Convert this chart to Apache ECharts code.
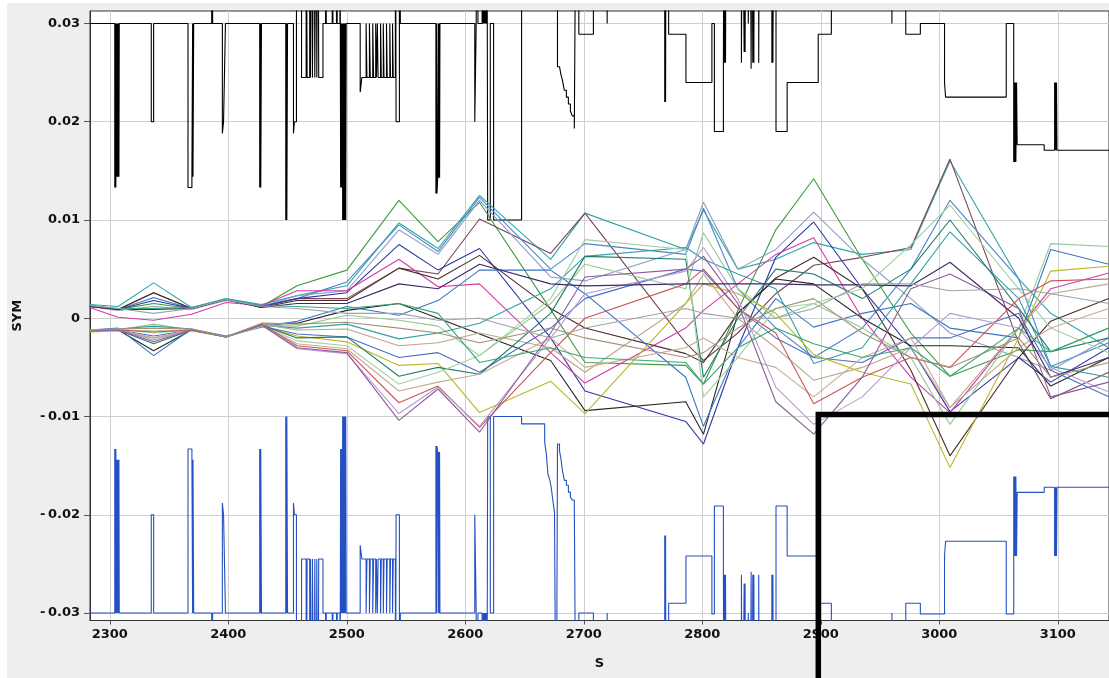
<!DOCTYPE html>
<html><head><meta charset="utf-8">
<script src="https://cdn.jsdelivr.net/npm/echarts@6.0.0/dist/echarts.min.js"></script>
<style>html,body{margin:0;padding:0;background:#fff}#c{width:1109px;height:678px}</style>
</head><body><div id="c"></div>
<script>
// ---------------- DATA ----------------
const X_TICKS = [2300, 2400, 2500, 2600, 2700, 2800, 2900, 3000, 3100];
const Y_TICKS = [-0.03, -0.02, -0.01, 0, 0.01, 0.02, 0.03];

// Orbit sample positions (s) shared by all trajectories
const S_ORBIT = [2283, 2307, 2337, 2369, 2398, 2428, 2458, 2500, 2544, 2577, 2612, 2672, 2701, 2786, 2801, 2830, 2862, 2894, 2935, 2976, 3009, 3067, 3094, 3143];
// trajectory values in units of 1e-3
const o01 = [1.2, 0.9, 1.5, 1.0, 1.9, 1.2, 3.3, 4.9, 12.0, 7.8, 11.8, 0.9, -4.5, -4.8, -6.7, 0.8, 9.0, 14.2, 6.0, -1.5, -5.9, -3.2, -3.4, -1.0];
const o02 = [1.4, 1.2, 3.6, 1.1, 2.0, 1.4, 2.3, 3.3, 9.7, 7.1, 12.5, 6.0, 10.7, 7.0, 11.0, 5.0, 6.0, 7.7, 6.5, 7.0, 16.0, 4.0, 0.5, -3.0];
const o03 = [1.3, 0.9, 2.6, 1.0, 1.9, 1.2, 2.0, 2.0, 5.1, 4.5, 10.1, 6.6, 10.7, -2.5, -4.3, -1.5, 2.5, 5.4, 6.2, 7.2, 16.2, -2.5, -8.2, -5.5];
const o04 = [1.3, 0.9, 2.1, 1.0, 1.9, 1.3, 2.0, 3.7, 9.5, 6.8, 12.3, 5.0, 7.6, 6.5, 11.2, 3.0, -1.0, -4.0, -1.0, 5.0, 12.0, 4.0, -4.9, -2.5];
const o05 = [1.2, 0.8, 1.2, 0.9, 1.8, 1.2, 2.3, 2.8, 9.0, 6.5, 12.0, 4.2, 3.8, 7.0, 11.8, 5.0, 7.0, 10.8, 6.0, 2.0, -1.5, -4.0, -5.3, -2.0];
const o06 = [1.3, 0.9, 1.8, 1.0, 1.9, 1.2, 2.0, 2.6, 7.5, 4.9, 7.1, -2.0, -7.4, -10.5, -12.8, -3.0, 6.2, 9.8, 3.0, -3.0, -9.5, -4.0, -6.5, -3.0];
const o07 = [1.1, 0.1, -0.2, 0.4, 1.6, 1.3, 2.8, 2.8, 6.0, 3.2, 3.5, -3.5, -6.6, -1.0, 0.8, 3.5, 6.5, 8.2, 0.0, -6.0, -9.6, -1.0, 3.0, 4.6];
const o08 = [1.2, 0.9, 2.6, 1.0, 1.9, 1.1, 1.8, 1.8, 5.1, 4.0, 6.4, 1.0, -1.0, -3.6, -4.5, 0.5, 4.1, 6.2, 3.0, -5.3, -14.0, -4.0, -0.3, 2.0];
const o09 = [-1.3, -1.2, -3.3, -1.2, -1.9, -0.6, -0.5, 0.8, 1.5, 0.0, -1.6, -4.3, -9.4, -8.5, -11.8, 0.5, 4.0, 3.5, 0.0, -2.8, -2.8, -3.0, -6.9, -4.0];
const o10 = [-1.2, -1.0, -3.8, -1.1, -1.8, -0.9, -0.3, 1.2, 0.3, 1.8, 4.9, 4.9, 2.5, -6.0, -11.0, -3.0, 2.0, -0.9, 0.5, 1.5, -1.0, -2.0, 7.0, 5.5];
const o11 = [-1.3, -1.2, -0.6, -1.2, -1.9, -0.7, -0.8, 0.3, -0.2, -0.8, -3.8, 1.5, 5.5, 3.0, 8.7, 3.0, 0.0, 1.5, -1.0, -4.0, -10.8, -1.0, 7.6, 7.3];
const o12 = [-1.2, -1.1, -0.8, -1.1, -1.9, -0.7, -1.0, -0.6, -2.1, -1.5, -0.5, 3.0, 6.3, 7.2, 6.0, 4.5, 3.0, -4.6, -3.0, 3.5, 8.8, 2.0, -4.9, -6.0];
const o13 = [-1.3, -1.2, -1.3, -1.2, -1.9, -0.6, -1.2, -1.1, -2.8, -2.5, -1.5, -3.0, -5.5, 1.5, 4.5, 0.0, -3.0, -6.3, -5.0, -3.0, -9.1, -1.0, 2.5, 3.5];
const o14 = [-1.3, -1.2, -1.8, -1.2, -1.9, -0.8, -1.6, -1.9, -4.0, -3.5, -5.5, -1.0, 2.0, 5.0, 4.8, 1.0, -2.0, -4.0, -4.5, -2.0, -2.0, 0.5, -5.3, -8.0];
const o15 = [-1.4, -1.3, -2.0, -1.3, -1.9, -0.8, -1.8, -2.4, -4.8, -4.6, -9.6, -6.4, -9.7, 1.5, 3.5, 2.5, 0.5, -3.7, -5.5, -6.7, -15.2, -2.0, 4.8, 5.3];
const o16 = [-1.3, -1.2, -2.6, -1.2, -1.9, -0.7, -2.0, -1.9, -5.9, -5.0, -5.7, 0.5, 6.3, 6.0, -6.0, 0.0, 5.0, 4.5, 2.0, 5.0, 10.0, 1.0, -3.4, -2.0];
const o17 = [-1.2, -1.1, -1.5, -1.2, -1.9, -0.8, -2.3, -2.8, -6.7, -5.5, -3.8, 2.0, 8.0, 7.0, -8.0, -4.0, 1.0, 1.5, 3.0, 7.5, 11.5, 3.0, -1.0, -3.5];
const o18 = [-1.3, -1.2, -2.0, -1.2, -1.9, -0.7, -2.6, -3.1, -7.4, -6.5, -5.7, -2.0, -5.0, -3.0, -2.0, -4.0, -5.0, -8.0, -4.0, -2.0, -9.1, -3.0, -1.0, 1.0];
const o19 = [-1.3, -1.2, -1.4, -1.2, -1.9, -0.6, -2.8, -3.3, -8.6, -6.9, -11.1, -3.5, 0.0, 3.5, 5.0, 1.0, -1.5, -8.7, -6.0, -4.0, -5.0, 2.0, 3.8, 4.0];
const o20 = [-1.3, -1.2, -2.2, -1.2, -1.9, -0.7, -3.1, -3.6, -9.7, -7.0, -11.0, -2.0, 2.5, 4.8, 7.2, 2.0, -7.0, -10.8, -8.0, -3.0, 0.5, -1.0, -5.0, -7.5];
const o21 = [-1.3, -1.2, -2.4, -1.2, -1.9, -0.7, -3.0, -3.5, -10.4, -7.2, -11.6, -1.5, 4.2, 5.0, 6.3, 1.5, -8.5, -11.8, -6.0, 3.0, 4.5, 1.0, -8.0, -6.5];
const o22 = [1.2, 0.9, 0.9, 1.0, 1.9, 1.1, 1.5, 1.5, 3.5, 3.0, 5.5, 3.5, 3.3, 3.5, 3.5, 3.5, 3.5, 3.4, 3.4, 3.3, 5.7, 0.0, -6.0, -4.0];
const o23 = [-1.2, -1.1, -1.0, -1.1, -1.9, -0.5, -0.6, -0.4, -1.0, -1.5, -2.5, -1.0, -2.0, -4.0, -3.5, -1.0, 1.0, 2.0, -1.5, -4.0, -5.0, -2.0, -6.0, -4.5];
const o24 = [1.3, 1.0, 1.0, 1.1, 1.9, 1.3, 1.2, 1.0, 1.5, 0.5, -4.5, -3.0, -4.0, -4.5, -6.7, -3.0, -1.0, -2.6, -4.0, -3.0, -5.9, -1.0, -3.4, -1.0];
const o25 = [1.3, 1.0, 0.5, 1.0, 1.9, 1.2, 1.0, 0.5, 0.5, -0.2, 0.0, -2.0, -1.0, 1.0, 0.5, 0.0, 0.0, 1.0, 3.5, 3.5, 2.8, 3.0, 2.5, 1.5];
const ORBITS = [o01, o02, o03, o04, o05, o06, o07, o08, o09, o10, o11, o12, o13, o14, o15, o16, o17, o18, o19, o20, o21, o22, o23, o24, o25];

// Aperture steps: [s, upper, lower]; value holds from s to next s. BIG = beyond plot range
const BIG = 0.05;
const APERTURE_STEPS = [
[2283.0,0.03,-0.03],
[2304.2,0.0133,-0.0133],[2304.8,0.03,-0.03],[2305.1,0.0133,-0.0133],[2305.7,0.03,-0.03],[2306.0,0.0144,-0.0144],
[2306.6,0.03,-0.03],[2306.9,0.0144,-0.0144],[2307.5,0.03,-0.03],[2307.7,0.0144,-0.0144],[2308.0,0.03,-0.03],
[2335.0,0.0200,-0.0200],[2337.0,0.03,-0.03],
[2366.0,0.0133,-0.0133],[2369.3,0.0144,-0.0144],[2369.9,0.03,-0.03],[2370.2,0.0144,-0.0144],[2370.8,0.03,-0.03],
[2386.0,BIG,-BIG],[2386.8,0.03,-0.03],[2395.0,0.0188,-0.0188],[2396.0,0.0200,-0.0200],[2397.6,0.03,-0.03],
[2426.5,0.0133,-0.0133],[2427.1,0.03,-0.03],[2427.4,0.0133,-0.0133],[2428.0,0.03,-0.03],
[2448.5,0.0100,-0.0100],[2449.1,0.03,-0.03],[2449.4,0.0100,-0.0100],[2450.0,0.03,-0.03],
[2455.0,0.0188,-0.0188],[2455.8,0.0200,-0.0200],[2457.5,0.03,-0.03],[2458.3,BIG,-BIG],
[2461.8,0.0245,-0.0245],[2465.7,BIG,-BIG],[2466.5,0.0245,-0.0245],[2468.7,BIG,-BIG],[2469.3,0.0245,-0.0245],
[2470.4,BIG,-BIG],[2471.0,0.0245,-0.0245],[2472.4,BIG,-BIG],[2473.0,0.0245,-0.0245],[2474.1,BIG,-BIG],
[2474.7,0.0245,-0.0245],[2475.7,BIG,-BIG],[2476.3,0.0245,-0.0245],[2479.9,0.03,-0.03],
[2482.1,BIG,-BIG],[2482.7,0.03,-0.03],[2487.7,BIG,-BIG],[2488.3,0.03,-0.03],[2491.3,BIG,-BIG],[2491.9,0.03,-0.03],
[2494.2,BIG,-BIG],[2494.8,0.0133,-0.0133],[2495.4,0.03,-0.03],[2495.7,0.0133,-0.0133],[2496.3,0.03,-0.03],
[2496.5,0.0100,-0.0100],[2497.1,0.03,-0.03],[2497.4,0.0100,-0.0100],[2498.0,0.03,-0.03],[2498.3,0.0100,-0.0100],
[2498.9,0.03,-0.03],[2499.1,0.0100,-0.0100],[2499.5,0.03,-0.03],
[2511.3,0.0230,-0.0231],[2512.7,0.0245,-0.0245],[2516.3,0.03,-0.03],[2517.0,0.0245,-0.0245],
[2519.1,0.03,-0.03],[2519.8,0.0245,-0.0245],[2521.9,0.03,-0.03],[2522.6,0.0245,-0.0245],
[2524.4,0.03,-0.03],[2525.0,0.0245,-0.0245],[2525.8,0.03,-0.03],[2526.4,0.0245,-0.0245],
[2528.5,0.03,-0.03],[2529.1,0.0245,-0.0245],[2530.8,0.03,-0.03],[2531.4,0.0245,-0.0245],
[2533.5,0.03,-0.03],[2534.1,0.0245,-0.0245],[2536.3,0.03,-0.03],[2536.9,0.0245,-0.0245],
[2538.6,0.03,-0.03],[2539.2,0.0245,-0.0245],[2541.0,BIG,-BIG],[2541.6,0.0200,-0.0200],[2544.4,BIG,-BIG],[2545.2,0.03,-0.03],
[2575.2,0.0127,-0.0130],[2575.8,0.03,-0.03],[2576.1,0.0127,-0.0130],[2576.7,0.0143,-0.0136],[2577.3,0.03,-0.03],
[2577.6,0.0143,-0.0136],[2578.2,0.03,-0.03],[2578.3,0.0143,-0.0136],[2578.6,0.03,-0.03],
[2608.0,0.0200,-0.0200],[2609.2,0.03,-0.03],[2610.0,BIG,-BIG],[2610.7,0.03,-0.03],
[2614.2,BIG,-BIG],[2614.8,0.03,-0.03],[2615.0,BIG,-BIG],[2615.6,0.03,-0.03],[2615.8,BIG,-BIG],[2616.4,0.03,-0.03],
[2616.6,BIG,-BIG],[2617.2,0.03,-0.03],[2617.4,BIG,-BIG],[2618.0,0.03,-0.03],[2618.2,BIG,-BIG],
[2618.9,0.0100,-0.0100],[2621.1,0.03,-0.03],[2623.9,0.0100,-0.0100],
[2647.5,BIG,-0.01075],[2667.0,BIG,-0.01263],[2668.4,BIG,-0.0138],[2669.7,BIG,-0.01585],[2671.1,BIG,-0.01636],
[2672.5,BIG,-0.0172],[2673.9,BIG,-0.01857],[2675.3,BIG,-0.01975],[2676.7,BIG,-BIG],
[2677.8,0.0256,-0.0128],[2679.5,0.0254,-0.0135],[2680.7,0.0248,-0.0143],[2682.0,0.0242,-0.0155],
[2683.6,0.0232,-0.0165],[2685.3,0.0225,-0.0170],[2687.0,0.0218,-0.0177],[2688.7,0.0211,-0.0182],
[2690.3,0.0206,-0.0185],[2692.0,0.0193,-0.0190],[2693.6,BIG,-BIG],
[2695.8,0.0289,-0.0300],[2708.1,BIG,-BIG],[2719.7,0.03,-0.03],[2720.4,BIG,-BIG],
[2768.3,0.0220,-0.0221],[2768.8,BIG,-BIG],[2769.0,0.0220,-0.0221],[2769.4,BIG,-BIG],
[2771.6,0.0289,-0.0290],[2786.2,0.0240,-0.0242],
[2808.1,0.0300,-0.0301],[2810.2,0.0190,-0.0191],
[2817.8,0.0260,-0.0261],[2818.4,BIG,-BIG],[2818.7,0.0260,-0.0261],[2819.3,BIG,-BIG],[2819.6,0.0260,-0.0261],[2820.2,BIG,-BIG],
[2833.0,0.0260,-0.0261],[2833.8,BIG,-BIG],
[2835.3,0.0271,-0.0270],[2835.9,BIG,-BIG],[2836.1,0.0271,-0.0270],[2836.7,BIG,-BIG],
[2838.8,0.0300,-0.0300],[2840.2,BIG,-BIG],[2841.2,0.0254,-0.0258],[2841.9,BIG,-BIG],
[2842.6,0.0260,-0.0261],[2843.2,BIG,-BIG],[2843.5,0.0260,-0.0261],[2844.1,BIG,-BIG],
[2847.6,0.0260,-0.0261],[2848.3,BIG,-BIG],
[2858.7,0.0260,-0.0261],[2859.3,BIG,-BIG],[2859.6,0.0260,-0.0261],[2860.2,BIG,-BIG],
[2862.2,0.0190,-0.0191],[2871.6,0.0240,-0.0242],
[2897.8,0.0289,-0.0290],[2908.9,BIG,-BIG],[2960.0,0.03,-0.03],[2960.6,BIG,-BIG],
[2971.7,0.0289,-0.0290],[2984.0,0.0300,-0.0301],[3004.4,0.0240,-0.0242],[3005.3,0.0225,-0.0227],
[3056.5,0.0300,-0.0301],
[3062.8,0.0159,-0.0161],[3063.4,0.0240,-0.0242],[3063.7,0.0159,-0.0161],[3064.3,0.0240,-0.0242],[3064.6,0.0159,-0.0161],[3065.2,0.0240,-0.0242],
[3065.7,0.01766,-0.01772],[3088.5,0.0171,-0.0172],
[3097.3,0.0240,-0.0242],[3097.9,0.0171,-0.0172],[3098.1,0.0240,-0.0242],[3098.7,0.0171,-0.0172],[3098.9,0.0240,-0.0242],
[3099.3,0.0171,-0.0172],[3150.0,0.0171,-0.0172]
];

// ---------------- STYLE ----------------
const ORBIT_COLORS = ['#3d9a3d','#2ca7a7','#7b4456','#4a88c8','#8f9cc4','#2b36a6','#d23aa6','#4b2b2b','#262626','#3a76c2',
  '#93c993','#33a0a0','#bda68b','#4d6fc2','#b9b825','#1f7d6c','#a3cfa3','#c6ab94','#c95656','#b49cd2','#8b5b9b','#3d2a6b','#a39274','#3aa676','#9ea3ab'];
const FONT = '"DejaVu Sans", Verdana, sans-serif';

const chart = echarts.init(document.getElementById('c'), null, {renderer: 'canvas'});

const series = [];
series.push({
  type: 'line', step: 'end', showSymbol: false, symbol: 'none', z: 2, silent: true,
  lineStyle: {color: '#000', width: 1.1},
  data: APERTURE_STEPS.map(r => [r[0], r[1]])
});
series.push({
  type: 'line', step: 'end', showSymbol: false, symbol: 'none', z: 2, silent: true,
  lineStyle: {color: '#2450c2', width: 1.1},
  data: APERTURE_STEPS.map(r => [r[0], r[2]])
});
ORBITS.forEach((vals, k) => {
  series.push({
    type: 'line', showSymbol: false, symbol: 'none', z: 3, silent: true,
    lineStyle: {color: ORBIT_COLORS[k], width: 1.1},
    data: S_ORBIT.map((s, i) => [s, vals[i] / 1000])
  });
});

const labelStyle = {fontFamily: FONT, fontWeight: 'bold', fontSize: 13, color: '#111'};

chart.setOption({
  animation: false,
  backgroundColor: '#ffffff',
  grid: {left: 90, top: 11, width: 1031, height: 609.5, show: true, backgroundColor: '#ffffff', borderColor: '#333', borderWidth: 1, containLabel: false},
  xAxis: {
    type: 'value', min: 2283.3, max: 3143.2,
    axisLine: {show: true, onZero: false, lineStyle: {color: '#333'}},
    axisTick: {show: true, customValues: X_TICKS, length: 4, lineStyle: {color: '#555'}},
    axisLabel: Object.assign({customValues: X_TICKS, margin: 8, formatter: v => String(v)}, labelStyle),
    splitLine: {show: true, lineStyle: {color: '#cfcfcf', width: 1}},
    name: 'S', nameLocation: 'middle', nameGap: 37,
    nameTextStyle: {fontFamily: FONT, fontWeight: 'bold', fontSize: 13, color: '#111'}
  },
  yAxis: {
    type: 'value', min: -0.03076, max: 0.03127,
    axisLine: {show: true, onZero: false, lineStyle: {color: '#333'}},
    axisTick: {show: true, customValues: Y_TICKS, length: 6, lineStyle: {color: '#555'}},
    axisLabel: Object.assign({customValues: Y_TICKS, margin: 10, formatter: v => {
      if (Math.abs(v) < 1e-12) return '0';
      const a = Math.abs(v).toFixed(2);
      return v < 0 ? '-\u2009' + a : a;
    }}, labelStyle),
    splitLine: {show: true, lineStyle: {color: '#cfcfcf', width: 1}},
    name: 'SYM', nameLocation: 'middle', nameGap: 66, nameRotate: 90,
    nameTextStyle: {fontFamily: FONT, fontWeight: 'bold', fontSize: 13, color: '#111'}
  },
  graphic: [
    {type: 'rect', z: -100, silent: true, shape: {x: 7, y: 3, width: 1110, height: 680}, style: {fill: '#eeeeee'}},
    {type: 'rect', z: 100, silent: true, shape: {x: 818.3, y: 414.6, width: 600, height: 500}, style: {fill: 'none', stroke: '#000', lineWidth: 5.5}}
  ],
  series: series
});
</script></body></html>
